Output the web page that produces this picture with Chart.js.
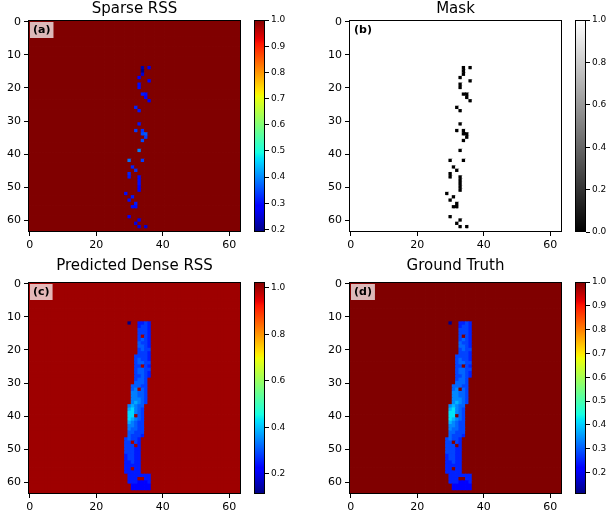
<!DOCTYPE html>
<html><head><meta charset="utf-8">
<script src="https://cdn.jsdelivr.net/npm/chart.js@4.4.1/dist/chart.umd.min.js"></script>
<style>
html,body{margin:0;padding:0;background:#fff;overflow:hidden;width:608px;height:510px;position:relative;}
.box{position:absolute;}
</style></head><body>
<div class="box" style="left:0px;top:0px;width:270px;height:260px"><canvas id="pa"></canvas></div>
<div class="box" style="left:254px;top:0px;width:41px;height:260px"><canvas id="cba"></canvas></div>
<div class="box" style="left:321px;top:0px;width:270px;height:260px"><canvas id="pb"></canvas></div>
<div class="box" style="left:575px;top:0px;width:41px;height:260px"><canvas id="cbb"></canvas></div>
<div class="box" style="left:0px;top:257px;width:270px;height:265px"><canvas id="pc"></canvas></div>
<div class="box" style="left:254px;top:257px;width:41px;height:265px"><canvas id="cbc"></canvas></div>
<div class="box" style="left:321px;top:257px;width:270px;height:265px"><canvas id="pd"></canvas></div>
<div class="box" style="left:575px;top:257px;width:41px;height:265px"><canvas id="cbd"></canvas></div>
<script>
// ---------------- DATA ----------------
const GRID = 64;
const xTicks = [0, 20, 40, 60];
const yTicks = [0, 10, 20, 30, 40, 50, 60];
const titles = ['Sparse RSS', 'Mask', 'Predicted Dense RSS', 'Ground Truth'];
const panelTags = ['(a)', '(b)', '(c)', '(d)'];

// background level of each field
const sparseBackground = 1.0;
const predictedBackground = 1.0;
const truthBackground = 1.0;

// colour ranges (colorbar limits)
const sparseRange = [0.19, 1.0];
const maskRange = [0.0, 1.0];
const predictedRange = [0.114, 1.024];
const truthRange = [0.11, 1.0];

// colorbar tick labels
const sparseCbTicks = [0.2, 0.3, 0.4, 0.5, 0.6, 0.7, 0.8, 0.9, 1.0];
const maskCbTicks = [0.0, 0.2, 0.4, 0.6, 0.8, 1.0];
const predictedCbTicks = [0.2, 0.4, 0.6, 0.8, 1.0];
const truthCbTicks = [0.2, 0.3, 0.4, 0.5, 0.6, 0.7, 0.8, 0.9, 1.0];

// sparse samples (row, col, value)
const sampleRows = [14,15,16,14,17,18,19,20,22,22,23,24,26,27,31,33,33,34,34,35,36,39,42,42,44,45,46,47,47,48,49,50,51,52,53,54,55,56,56,59,60,61,62,62];
const sampleCols = [34,34,34,36,33,36,33,33,34,35,35,36,32,33,33,32,34,34,35,35,34,33,30,34,31,32,30,30,33,33,33,33,33,29,31,30,32,31,32,30,33,32,33,35];
const sampleValues = [0.22,0.19,0.25,0.27,0.29,0.28,0.30,0.30,0.31,0.30,0.29,0.27,0.32,0.31,0.31,0.34,0.33,0.35,0.36,0.34,0.35,0.39,0.38,0.34,0.32,0.33,0.32,0.31,0.30,0.30,0.30,0.29,0.29,0.30,0.31,0.30,0.31,0.30,0.30,0.29,0.27,0.26,0.26,0.25];

// low-RSS strip (per row: first column and coded cell levels; '.' = background)
const stripRows = [12,13,14,15,16,17,18,19,20,21,22,23,24,25,26,27,28,29,30,31,32,33,34,35,36,37,38,39,40,41,42,43,44,45,46,47,48,49,50,51,52,53,54,55,56,57,58,59,60,61,62];
const stripStart = [30,33,33,33,33,33,33,33,33,33,32,32,32,32,32,32,32,32,32,31,31,31,31,31,31,30,30,30,30,30,30,30,30,30,30,29,29,29,29,29,29,29,29,29,29,29,30,30,30,31,31];
const stripCodes = ['K..3343','3443','4443','4443','4R43','4543','5443','5543','4544','4443','44443','45443','45544','44R43','45544','45543','44543','4554','5554','55544','56R54','66554','66554','66654','67654','67655','78654','88654','88R54','87654','76544','66544','65544','55444','54443','45443','44R43','444R3','44433','44433','34433','34433','33433','33333','33R33','33333','3333333','333RR33','3332223','222222','222222'];
const codeLevels = {'2':0.22,'3':0.25,'4':0.28,'5':0.31,'6':0.34,'7':0.38,'8':0.42,'K':0.12,'R':1.0};

// ---------------- helpers ----------------
Chart.defaults.font.family = "'DejaVu Sans', sans-serif";
Chart.defaults.color = '#000';

const JR=[[0,0],[0.35,0],[0.66,1],[0.89,1],[1,0.5]];
const JG=[[0,0],[0.125,0],[0.375,1],[0.64,1],[0.91,0],[1,0]];
const JB=[[0,0.5],[0.11,1],[0.34,1],[0.65,0],[1,0]];
function interp(p,t){for(let i=1;i<p.length;i++){if(t<=p[i][0]){const a=p[i-1],b=p[i];return a[1]+(b[1]-a[1])*(t-a[0])/(b[0]-a[0]);}}return p[p.length-1][1];}
function jet(t){t=Math.max(0,Math.min(1,t));return 'rgb('+Math.round(interp(JR,t)*255)+','+Math.round(interp(JG,t)*255)+','+Math.round(interp(JB,t)*255)+')';}
function gray(t){t=Math.max(0,Math.min(1,t));const v=Math.round(t*255);return 'rgb('+v+','+v+','+v+')';}
const jetStops=[0,0.11,0.125,0.34,0.35,0.375,0.64,0.65,0.66,0.89,0.91,1];
const grayStops=[0,1];

function blank(v){return Array.from({length:GRID},()=>Array(GRID).fill(v));}
function sparseField(){const g=blank(sparseBackground);sampleRows.forEach((r,i)=>{g[r][sampleCols[i]]=sampleValues[i];});return g;}
function maskField(){const g=blank(1);sampleRows.forEach((r,i)=>{g[r][sampleCols[i]]=0;});return g;}
function stripField(bg){const g=blank(bg);stripRows.forEach((r,i)=>{const s=stripCodes[i];for(let k=0;k<s.length;k++){const ch=s[k];if(ch==='.')continue;g[r][stripStart[i]+k]=(ch==='R')?bg:codeLevels[ch];}});return g;}

function cellRadius(chart){const s=chart.scales.x;if(!s)return 1;return (Math.abs(s.getPixelForValue(1)-s.getPixelForValue(0))+0.8)/Math.SQRT2;}

const framePlugin={id:'frame',afterDraw(chart){const a=chart.chartArea;const c=chart.ctx;c.save();c.strokeStyle='#000';c.lineWidth=1;c.strokeRect(Math.round(a.left)+0.5,Math.round(a.top)+0.5,Math.round(a.right-a.left)-1,Math.round(a.bottom-a.top)-1);c.restore();}};
function tagPlugin(text){return {id:'tag',afterDatasetsDraw(chart){const a=chart.chartArea;const c=chart.ctx;c.save();c.font="bold 11px 'DejaVu Sans', sans-serif";const w=c.measureText(text).width;c.fillStyle='rgba(255,255,255,0.72)';c.fillRect(a.left+2,a.top+2,w+6,16);c.fillStyle='#000';c.textBaseline='middle';c.fillText(text,a.left+5,a.top+10.5);c.restore();}};}

function panel(id,title,tag,field,range,cmap,titleGap){
  const pts=[],cols=[];
  for(let r=0;r<GRID;r++)for(let c=0;c<GRID;c++){pts.push({x:c,y:r});cols.push(cmap((field[r][c]-range[0])/(range[1]-range[0])));}
  const tickCfg={font:{size:11},color:'#000',padding:3,autoSkip:false,maxRotation:0};
  const gridCfg={display:true,drawOnChartArea:false,drawTicks:true,tickLength:4,tickWidth:1,tickColor:'#000'};
  new Chart(document.getElementById(id),{
    type:'scatter',
    data:{datasets:[{data:pts,pointBackgroundColor:cols,pointStyle:'rect',pointBorderWidth:0,
      pointRadius:ctx=>cellRadius(ctx.chart),pointHoverRadius:ctx=>cellRadius(ctx.chart),showLine:false}]},
    options:{animation:false,responsive:true,maintainAspectRatio:false,events:[],parsing:false,
      layout:{padding:{left:0,right:29,top:0,bottom:0}},
      plugins:{legend:{display:false},tooltip:{enabled:false},
        title:{display:true,fullSize:false,text:title,color:'#000',font:{size:15,weight:'normal'},padding:{top:0,bottom:titleGap}}},
      scales:{
        x:{type:'linear',min:-0.5,max:63.5,afterBuildTicks:s=>{s.ticks=xTicks.map(v=>({value:v}));},
           afterFit:s=>{s.height=28;},ticks:tickCfg,grid:gridCfg,border:{display:false}},
        y:{type:'linear',reverse:true,min:-0.5,max:63.5,afterBuildTicks:s=>{s.ticks=yTicks.map(v=>({value:v}));},
           afterFit:s=>{s.width=28;},ticks:tickCfg,grid:gridCfg,border:{display:false}}
      }},
    plugins:[framePlugin,tagPlugin(tag)]
  });
}

function colorbar(id,range,ticks,stops,cmap,topPad){
  new Chart(document.getElementById(id),{
    type:'bar',
    data:{labels:['cb'],datasets:[{data:[[range[0],range[1]]],borderWidth:0,barPercentage:1,categoryPercentage:1,
      backgroundColor:ctx=>{const ch=ctx.chart;const a=ch.chartArea;if(!a)return '#888';
        const g=ch.ctx.createLinearGradient(0,a.bottom,0,a.top);stops.forEach(t=>g.addColorStop(t,cmap(t)));return g;}}]},
    options:{animation:false,responsive:true,maintainAspectRatio:false,events:[],
      layout:{padding:{left:0,right:0,top:topPad,bottom:28}},
      plugins:{legend:{display:false},tooltip:{enabled:false}},
      scales:{
        x:{display:false},
        y:{position:'right',min:range[0],max:range[1],afterBuildTicks:s=>{s.ticks=ticks.map(v=>({value:v}));},
           afterFit:s=>{s.width=30;},
           ticks:{font:{size:9},color:'#000',padding:2,autoSkip:false,callback:v=>Number(v).toFixed(1)},
           grid:{display:true,drawOnChartArea:false,drawTicks:true,tickLength:4,tickColor:'#000'},border:{display:false}}
      }},
    plugins:[framePlugin]
  });
}

panel('pa',titles[0],panelTags[0],sparseField(),sparseRange,jet,2);
panel('pb',titles[1],panelTags[1],maskField(),maskRange,gray,2);
panel('pc',titles[2],panelTags[2],stripField(predictedBackground),predictedRange,jet,7);
panel('pd',titles[3],panelTags[3],stripField(truthBackground),truthRange,jet,7);
colorbar('cba',sparseRange,sparseCbTicks,jetStops,jet,20);
colorbar('cbb',maskRange,maskCbTicks,grayStops,gray,20);
colorbar('cbc',predictedRange,predictedCbTicks,jetStops,jet,25);
colorbar('cbd',truthRange,truthCbTicks,jetStops,jet,25);
</script>
</body></html>
